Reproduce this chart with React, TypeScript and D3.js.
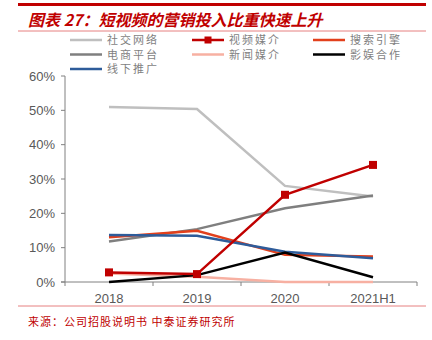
import React from "react";
import * as d3 from "d3";

const categories = ["2018", "2019", "2020", "2021H1"];
const seriesNames = ["社交网络", "视频媒介", "搜索引擎", "电商平台", "新闻媒介", "影娱合作", "线下推广"];
const social = [51.0, 50.4, 28.0, 24.9];
const video = [2.8, 2.3, 25.4, 34.1];
const search = [13.0, 14.9, 7.9, 7.4];
const ecommerce = [11.8, 15.4, 21.5, 25.2];
const news = [2.5, 1.5, 0, 0];
const film = [0, 2.0, 8.6, 1.4];
const offline = [13.7, 13.5, 8.8, 6.9];
const yTicks = [0, 10, 20, 30, 40, 50, 60];

const colors = ["#bfbfbf", "#c00000", "#e2401c", "#7f7f7f", "#f7b0a2", "#000000", "#2e5c9a"];
const seriesValues = [social, video, search, ecommerce, news, film, offline];

export default function App() {
  const W = 432, H = 340;
  const x0 = 65, x1 = 417, yTop = 76, yBot = 282;
  const x = d3.scaleBand().domain(categories).range([x0, x1]);
  const y = d3.scaleLinear().domain([0, 60]).range([yBot, yTop]);
  const line = d3
    .line<number>()
    .x((_, i) => (x(categories[i]) as number) + x.bandwidth() / 2)
    .y((d) => y(d));

  // draw order: back to front
  const order = [0, 3, 4, 2, 6, 5, 1];
  const legendPos = [
    [70, 40], [192, 40], [313, 40],
    [70, 54.5], [192, 54.5], [313, 54.5],
    [70, 69],
  ];
  const axisColor = "#595959";

  return (
    <svg width={W} height={H} style={{ position: "absolute", left: 0, top: 0 }}>
      <rect width={W} height={H} fill="#fff" />
      <line x1={18} x2={426} y1={4.5} y2={4.5} stroke="#c00000" strokeWidth={3} />
      <text
        x={28}
        y={26}
        fill="#c00000"
        fontSize={16}
        fontStyle="italic"
        fontWeight="bold"
        fontFamily="'Noto Sans CJK SC', sans-serif"
      >
        图表 27：短视频的营销投入比重快速上升
      </text>
      <line x1={18} x2={426} y1={31} y2={31} stroke="#e06060" strokeWidth={0.8} />

      {/* legend */}
      {seriesNames.map((name, i) => {
        const [lx, ly] = legendPos[i];
        return (
          <g key={name}>
            <line x1={lx} x2={lx + 32} y1={ly} y2={ly} stroke={colors[i]} strokeWidth={2.5} />
            {i === 1 && <rect x={lx + 12.5} y={ly - 3.5} width={7} height={7} fill={colors[i]} />}
            <text
              x={lx + 37}
              y={ly + 4}
              fontSize={11}
              fill="#7f7f7f"
              letterSpacing={2}
              fontFamily="'Noto Sans CJK SC', sans-serif"
            >
              {name}
            </text>
          </g>
        );
      })}

      {/* y axis */}
      <line x1={x0} x2={x0} y1={yTop} y2={yBot} stroke="#808080" strokeWidth={1} />
      {yTicks.map((t) => (
        <g key={t}>
          <line x1={x0 - 4} x2={x0} y1={y(t)} y2={y(t)} stroke="#808080" />
          <text
            x={55}
            y={y(t) + 4.5}
            textAnchor="end"
            fontSize={13}
            fill={axisColor}
            fontFamily="'Liberation Sans', Arial, sans-serif"
          >
            {t}%
          </text>
        </g>
      ))}

      {/* x axis */}
      <line x1={x0 - 4} x2={x1} y1={yBot} y2={yBot} stroke="#808080" strokeWidth={1} />
      {[...categories.map((c) => x(c) as number), x1].map((tx, i) => (
        <line key={i} x1={tx} x2={tx} y1={yBot} y2={yBot + 4} stroke="#808080" />
      ))}
      {categories.map((c) => (
        <text
          key={c}
          x={(x(c) as number) + x.bandwidth() / 2}
          y={303}
          textAnchor="middle"
          fontSize={13}
          fill={axisColor}
          fontFamily="'Liberation Sans', Arial, sans-serif"
        >
          {c}
        </text>
      ))}

      {/* series */}
      {order.map((i) => (
        <g key={seriesNames[i]}>
          <path d={line(seriesValues[i]) || ""} fill="none" stroke={colors[i]} strokeWidth={2.5} />
          {i === 1 &&
            seriesValues[i].map((v, j) => (
              <rect
                key={j}
                x={(x(categories[j]) as number) + x.bandwidth() / 2 - 4}
                y={y(v) - 4}
                width={8}
                height={8}
                fill={colors[i]}
              />
            ))}
        </g>
      ))}

      <line x1={18} x2={426} y1={306} y2={306} stroke="#e06060" strokeWidth={0.8} />
      <text
        x={28}
        y={326}
        fontSize={11}
        fill="#c00000"
        letterSpacing={1}
        fontFamily="'Noto Sans CJK SC', sans-serif"
      >
        来源：公司招股说明书 中泰证券研究所
      </text>
    </svg>
  );
}
